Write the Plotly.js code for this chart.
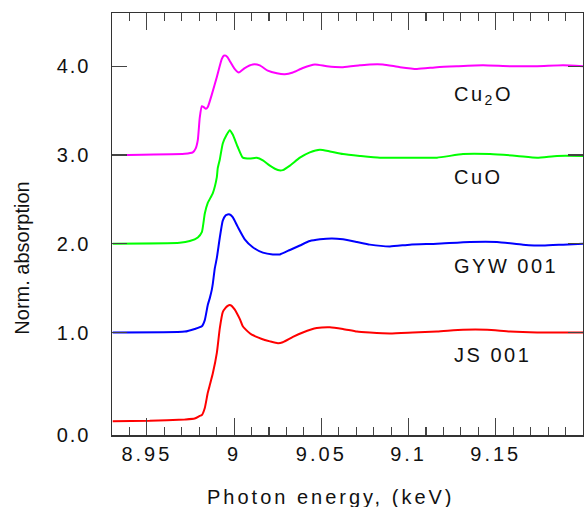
<!DOCTYPE html>
<html><head><meta charset="utf-8">
<script src="https://cdn.plot.ly/plotly-3.0.1.min.js"></script>
<style>
html,body{margin:0;padding:0;background:#fff;}
#chart{width:584px;height:507px;}
.xtick text{letter-spacing:3px;}
.ytick text{letter-spacing:2px;}
.annotation[data-index="0"] .annotation-text,
.annotation[data-index="1"] .annotation-text,
.annotation[data-index="2"] .annotation-text,
.annotation[data-index="3"] .annotation-text{letter-spacing:2.5px;}
.annotation[data-index="4"] .annotation-text{letter-spacing:3px;}
</style></head><body><div id="chart"></div><script>
// Normalized Cu K-edge XANES spectra (energy in keV), stacked with offsets
const sampleNames = ['JS 001', 'GYW 001', 'CuO', 'Cu<sub>2</sub>O'];
const offsets = [0, 1, 2, 3];
const colors = ['#ff0000', '#0000ff', '#00ff00', '#ff00ff'];

const energyJS = [8.9304, 8.9516, 8.9717, 8.9774, 8.9803, 8.9815, 8.9832, 8.9849, 8.9861, 8.9878,
  8.9901, 8.9918, 8.9935, 8.9952, 8.9963, 8.9975, 8.9986, 9.0003, 9.0015, 9.0033,
  9.0050, 9.0079, 9.0101, 9.0136, 9.0176, 9.0205, 9.0251, 9.0279, 9.0337, 9.0394,
  9.0474, 9.0549, 9.0624, 9.0704, 9.0778, 9.0893, 9.1025, 9.1163, 9.1312, 9.1450,
  9.1582, 9.1737, 9.1886, 9.2000];
const muJS = [0.00, 0.005, 0.02, 0.03, 0.06, 0.07, 0.15, 0.32, 0.41, 0.54,
  0.77, 1.05, 1.23, 1.28, 1.30, 1.31, 1.30, 1.26, 1.22, 1.15,
  1.07, 1.01, 0.975, 0.945, 0.915, 0.90, 0.88, 0.89, 0.95, 1.00,
  1.05, 1.06, 1.04, 1.01, 1.00, 0.99, 1.00, 1.01, 1.03, 1.03,
  1.01, 1.00, 1.00, 1.00];

const energyGYW = [8.9304, 8.9717, 8.9774, 8.9815, 8.9832, 8.9849, 8.9861, 8.9872, 8.9878, 8.9889,
  8.9901, 8.9918, 8.9935, 8.9952, 8.9963, 8.9975, 8.9992, 9.0021, 9.0061, 9.0107,
  9.0165, 9.0222, 9.0262, 9.0320, 9.0377, 9.0434, 9.0492, 9.0561, 9.0624, 9.0704,
  9.0778, 9.0893, 9.1008, 9.1163, 9.1352, 9.1507, 9.1656, 9.1771, 9.1886, 9.2000];
const muGYW = [0.00, 0.01, 0.04, 0.07, 0.14, 0.31, 0.39, 0.48, 0.55, 0.72,
  0.84, 1.07, 1.26, 1.32, 1.33, 1.33, 1.30, 1.19, 1.05, 0.96,
  0.90, 0.88, 0.88, 0.93, 0.98, 1.03, 1.05, 1.06, 1.05, 1.02,
  0.99, 0.97, 0.99, 1.00, 1.02, 1.02, 0.99, 0.98, 0.99, 1.00];

const energyCuO = [8.9304, 8.9688, 8.9746, 8.9792, 8.9815, 8.9832, 8.9849, 8.9878, 8.9901, 8.9906,
  8.9918, 8.9935, 8.9958, 8.9975, 8.9992, 9.0021, 9.0050, 9.0090, 9.0130, 9.0165,
  9.0205, 9.0251, 9.0279, 9.0320, 9.0377, 9.0434, 9.0492, 9.0549, 9.0624, 9.0721,
  9.0836, 9.1008, 9.1163, 9.1312, 9.1467, 9.1622, 9.1737, 9.1851, 9.2000];
const muCuO = [0.00, 0.01, 0.03, 0.07, 0.13, 0.34, 0.46, 0.57, 0.75, 0.85,
  0.95, 1.13, 1.23, 1.28, 1.23, 1.09, 0.97, 0.96, 0.97, 0.94,
  0.88, 0.83, 0.83, 0.88, 0.97, 1.03, 1.06, 1.04, 1.01, 0.99,
  0.97, 0.97, 0.97, 1.01, 1.01, 0.99, 0.97, 0.99, 0.99];

const energyCu2O = [8.9304, 8.9717, 8.9763, 8.9780, 8.9792, 8.9803, 8.9815, 8.9826, 8.9838, 8.9849,
  8.9872, 8.9901, 8.9929, 8.9941, 8.9952, 8.9963, 8.9975, 9.0003, 9.0027, 9.0061,
  9.0107, 9.0147, 9.0193, 9.0245, 9.0291, 9.0337, 9.0394, 9.0463, 9.0532, 9.0624,
  9.0721, 9.0778, 9.0853, 9.0951, 9.1048, 9.1163, 9.1277, 9.1427, 9.1582, 9.1737,
  9.1886, 9.2000];
const muCu2O = [0.00, 0.015, 0.03, 0.075, 0.17, 0.42, 0.55, 0.54, 0.52, 0.54,
  0.68, 0.88, 1.08, 1.12, 1.12, 1.10, 1.06, 0.97, 0.93, 0.98,
  1.02, 1.01, 0.95, 0.92, 0.91, 0.93, 0.98, 1.02, 1.00, 0.99,
  1.01, 1.02, 1.02, 0.99, 0.97, 0.99, 1.00, 1.01, 1.00, 1.00,
  1.01, 1.00];

const yTickVals = [-0.15, 1, 2, 3, 4];
const yTickText = ['0.0', '1.0', '2.0', '3.0', '4.0'];
const xTickVals = [8.95, 9, 9.05, 9.1, 9.15];
const xTickText = ['8.95', '9', '9.05', '9.1', '9.15'];
const labelEnergy = 9.125;
const labelY = [0.75, 1.746, 2.755, 3.673];

const energies = [energyJS, energyGYW, energyCuO, energyCu2O];
const mus = [muJS, muGYW, muCuO, muCu2O];

const font = 'Liberation Sans, Arial, sans-serif';
const traces = energies.map((e, i) => ({
  x: e,
  y: mus[i].map(v => v + offsets[i]),
  type: 'scatter', mode: 'lines',
  line: {color: colors[i], width: 2, shape: 'spline', smoothing: 0.5},
  name: sampleNames[i], showlegend: false, hoverinfo: 'skip'
}));

const annotations = sampleNames.map((n, i) => ({
  text: n, x: labelEnergy, y: labelY[i], xref: 'x', yref: 'y',
  xanchor: 'left', yanchor: 'middle', align: 'left', showarrow: false,
  font: {family: font, size: 20, color: '#111'}
}));
annotations.push({
  text: 'Photon energy, (keV)', xref: 'paper', yref: 'paper', x: 0.4646, y: -0.147,
  xanchor: 'center', yanchor: 'middle', showarrow: false,
  font: {family: font, size: 20, color: '#111'}
});
annotations.push({
  text: 'Norm. absorption', xref: 'paper', yref: 'paper', x: -0.1918, y: 0.4194,
  xanchor: 'center', yanchor: 'middle', showarrow: false, textangle: -90,
  font: {family: font, size: 20, color: '#111'}
});

const layout = {
  width: 584, height: 507,
  margin: {l: 112, r: 1, t: 13, b: 72, pad: 0},
  paper_bgcolor: '#fff', plot_bgcolor: '#fff',
  font: {family: font, size: 20, color: '#111'},
  xaxis: {
    range: [8.93, 9.2], tickvals: xTickVals, ticktext: xTickText,
    ticks: 'inside', ticklen: 17, tickwidth: 1.2, tickcolor: '#444',
    minor: {dtick: 0.01, tick0: 8.93, ticks: 'inside', ticklen: 8, tickwidth: 1.2, tickcolor: '#444'},
    showline: true, linecolor: '#333', linewidth: 1.5, mirror: 'ticks',
    showgrid: false, zeroline: false,
    tickfont: {family: font, size: 20, color: '#111'}
  },
  yaxis: {
    range: [-0.155, 4.6], tickvals: yTickVals, ticktext: yTickText,
    ticks: 'inside', ticklen: 15, tickwidth: 1.2, tickcolor: '#444',
    ticklabelstandoff: 16,
    showline: true, linecolor: '#333', linewidth: 1.5, mirror: 'ticks',
    showgrid: false, zeroline: false,
    tickfont: {family: font, size: 20, color: '#111'}
  },
  annotations: annotations
};

Plotly.newPlot('chart', traces, layout, {staticPlot: true, displayModeBar: false});
</script></body></html>
